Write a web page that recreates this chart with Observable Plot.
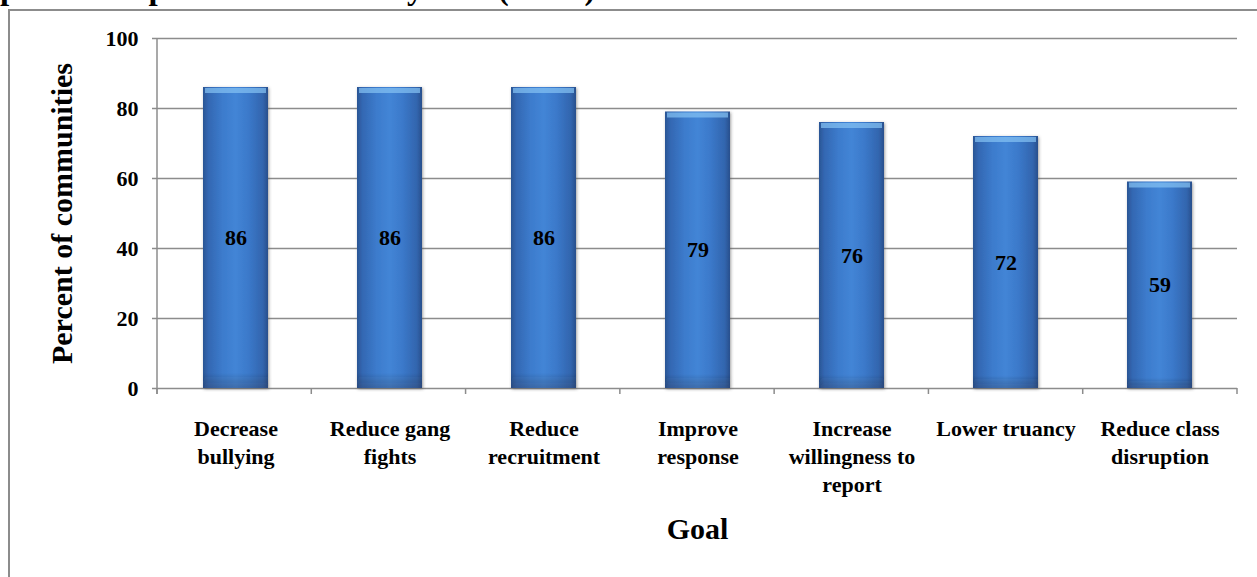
<!DOCTYPE html>
<html>
<head>
<meta charset="utf-8">
<script src="https://cdn.jsdelivr.net/npm/d3@7"></script>
<script src="https://cdn.jsdelivr.net/npm/@observablehq/plot@0.6"></script>
<style>
  body { margin: 0; background: #fff; width: 1257px; height: 577px; overflow: hidden; position: relative;
         font-family: "Liberation Serif", "Times New Roman", serif; }
  #title { position: absolute; left: 0; top: 0; width: 1257px; height: 9px; overflow: hidden; }
  #title span { position: absolute; left: 0; top: -27px; font-size: 33px; line-height: 30px; font-weight: bold; white-space: nowrap; }
  #frame { position: absolute; left: 8px; top: 9px; width: 1300px; height: 640px; border: 2px solid #8c8c8c; box-sizing: border-box; }
  #chart { position: absolute; left: 0; top: 0; }
  #chart g[aria-label="bar"] rect { filter: url(#barShadow); }
</style>
</head>
<body>
<div id="title"><span>partnership with the school system (N=29)</span></div>
<div id="frame"></div>
<div id="chart"></div>
<script>
// Goals pursued by communities in partnership with the school system
const goals = ["Decrease bullying", "Reduce gang fights", "Reduce recruitment", "Improve response",
               "Increase willingness to report", "Lower truancy", "Reduce class disruption"];
const goalLabels = ["Decrease\nbullying", "Reduce gang\nfights", "Reduce\nrecruitment", "Improve\nresponse",
                    "Increase\nwillingness to\nreport", "Lower truancy", "Reduce class\ndisruption"];
const percents = [86, 86, 86, 79, 76, 72, 59];
const yTicks = [0, 20, 40, 60, 80, 100];

const data = goals.map((goal, i) => ({goal, label: goalLabels[i], pct: percents[i]}));

const gray = "#8c8c8c";
const font = "Liberation Serif, Times New Roman, serif";

// gradient + shadow definitions for the glossy bars
const defsMark = () => {
  const defs = d3.create("svg:defs");
  const grad = defs.append("linearGradient").attr("id", "barGrad")
    .attr("x1", 0).attr("x2", 1).attr("y1", 0).attr("y2", 0);
  [[0, "#2a5594"], [0.08, "#3367b2"], [0.3, "#3c7bcc"], [0.5, "#4385d6"],
   [0.7, "#3b79ca"], [0.92, "#3265ae"], [1, "#294f8c"]]
    .forEach(([o, c]) => grad.append("stop").attr("offset", o).attr("stop-color", c));
  const shade = defs.append("linearGradient").attr("id", "barShade")
    .attr("x1", 0).attr("x2", 0).attr("y1", 0).attr("y2", 1);
  [[0, "#000", 0], [0.95, "#000", 0.0], [1, "#001a40", 0.2]]
    .forEach(([o, c, a]) => shade.append("stop").attr("offset", o).attr("stop-color", c).attr("stop-opacity", a));
  const f = defs.append("filter").attr("id", "barShadow")
    .attr("x", "-20%").attr("y", "-5%").attr("width", "140%").attr("height", "110%");
  f.append("feDropShadow").attr("dx", 1).attr("dy", 1).attr("stdDeviation", 1.5)
    .attr("flood-color", "#555").attr("flood-opacity", 0.55);
  return defs.node();
};

// left axis line and category boundary ticks below the baseline
const axisMark = (index, scales, values, dims) => {
  const {width, height, marginLeft, marginRight, marginTop, marginBottom} = dims;
  const bottom = height - marginBottom;
  const g = d3.create("svg:g").attr("stroke", gray).attr("stroke-width", 1.5);
  g.append("line").attr("x1", marginLeft).attr("x2", marginLeft)
    .attr("y1", marginTop).attr("y2", bottom + 6);
  const step = (width - marginLeft - marginRight) / goals.length;
  for (let i = 0; i <= goals.length; ++i) {
    const x = marginLeft + i * step;
    g.append("line").attr("x1", x).attr("x2", x).attr("y1", bottom).attr("y2", bottom + 6);
  }
  return g.node();
};

const chart = Plot.plot({
  width: 1257,
  height: 577,
  marginLeft: 157,
  marginRight: 20,
  marginTop: 38,
  marginBottom: 189,
  style: {fontFamily: font, fontWeight: "bold", color: "#000", background: "transparent"},
  x: {domain: goals, paddingInner: 0.58, paddingOuter: 0.29, axis: null},
  y: {domain: [0, 100], axis: null},
  marks: [
    defsMark,
    Plot.ruleY(yTicks, {stroke: gray, strokeWidth: 1.5, insetLeft: -5}),
    axisMark,
    Plot.barY(data, {x: "goal", y: "pct", fill: "url(#barGrad)"}),
    Plot.barY(data, {x: "goal", y: "pct", fill: "url(#barShade)"}),
    Plot.tickY(data, {x: "goal", y: "pct", stroke: "#86c3f3", strokeWidth: 5, strokeOpacity: 0.7,
                      dy: 3, insetLeft: 2, insetRight: 2}),
    Plot.text(data, {x: "goal", y: d => d.pct / 2, text: d => String(d.pct),
                     fontSize: 22, fontWeight: "bold", fill: "#000"}),
    Plot.text(yTicks, {y: d => d, text: d => String(d), frameAnchor: "left", dx: -19,
                       textAnchor: "end", fontSize: 22, fontWeight: "bold", fill: "#000"}),
    Plot.text(data, {x: "goal", text: "label", frameAnchor: "bottom", lineAnchor: "top", dy: 28,
                     lineHeight: 1.27, fontSize: 22, fontWeight: "bold", fill: "#000"}),
    Plot.text(["Goal"], {text: d => d, frameAnchor: "bottom", dy: 150,
                         fontSize: 30, fontWeight: "bold", fill: "#000"}),
    Plot.text(["Percent of communities"], {text: d => d, frameAnchor: "left", dx: -95, rotate: -90,
                                           textAnchor: "middle",
                                           fontSize: 30, fontWeight: "bold", fill: "#000"})
  ]
});

document.getElementById("chart").append(chart);
</script>
</body>
</html>
